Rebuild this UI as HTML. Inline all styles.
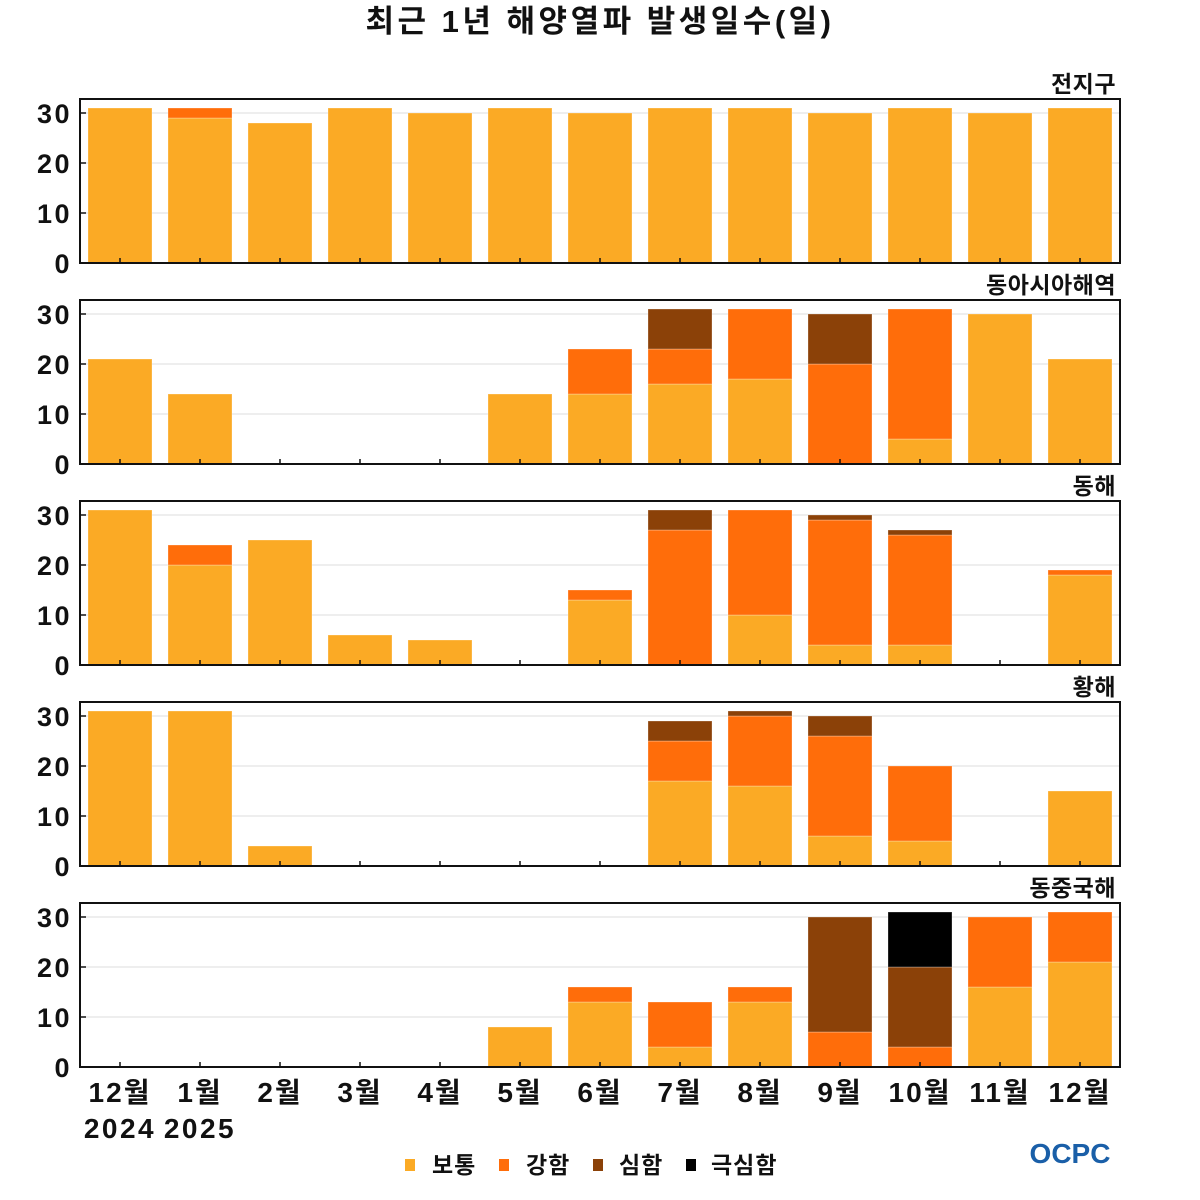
<!DOCTYPE html>
<html><head><meta charset="utf-8"><style>
html,body{margin:0;padding:0;background:#fff;}
svg{display:block;font-family:"Liberation Sans","Noto Sans CJK KR",sans-serif;}
</style></head><body>
<svg id="chart" width="1200" height="1200" viewBox="0 0 1200 1200" xmlns="http://www.w3.org/2000/svg">
<text x="600" y="32" text-anchor="middle" font-size="31" font-weight="bold" fill="#111" letter-spacing="3.5">최근 1년 해양열파 발생일수(일)</text>
<g id="panels"></g>
<g font-size="23" font-weight="bold" fill="#111">
<rect x="405" y="1159" width="10" height="12" fill="#FBAA25"/>
<text x="432" y="1173" letter-spacing="1">보통</text>
<rect x="499" y="1159" width="10" height="12" fill="#FF6D0A"/>
<text x="526" y="1173" letter-spacing="1">강함</text>
<rect x="593" y="1159" width="10" height="12" fill="#8B4108"/>
<text x="619" y="1173" letter-spacing="1">심함</text>
<rect x="686" y="1159" width="10" height="12" fill="#000"/>
<text x="711" y="1173" letter-spacing="1">극심함</text>
</g>
<text x="1070" y="1163" text-anchor="middle" font-size="28" font-weight="bold" fill="#1a5fa8">OCPC</text>
</svg>
<script>
const months = ["12월","1월","2월","3월","4월","5월","6월","7월","8월","9월","10월","11월","12월"];
const panelTitles = ["전지구","동아시아해역","동해","황해","동중국해"];
const yTicks = [0,10,20,30];
// per panel: [보통, 강함, 심함, 극심함]
const globalModerate = [31,29,28,31,30,31,30,31,31,30,31,30,31];
const globalStrong   = [0,2,0,0,0,0,0,0,0,0,0,0,0];
const globalSevere   = [0,0,0,0,0,0,0,0,0,0,0,0,0];
const globalExtreme  = [0,0,0,0,0,0,0,0,0,0,0,0,0];
const eastAsiaModerate = [21,14,0,0,0,14,14,16,17,0,5,30,21];
const eastAsiaStrong   = [0,0,0,0,0,0,9,7,14,20,26,0,0];
const eastAsiaSevere   = [0,0,0,0,0,0,0,8,0,10,0,0,0];
const eastAsiaExtreme  = [0,0,0,0,0,0,0,0,0,0,0,0,0];
const eastSeaModerate = [31,20,25,6,5,0,13,0,10,4,4,0,18];
const eastSeaStrong   = [0,4,0,0,0,0,2,27,21,25,22,0,1];
const eastSeaSevere   = [0,0,0,0,0,0,0,4,0,1,1,0,0];
const eastSeaExtreme  = [0,0,0,0,0,0,0,0,0,0,0,0,0];
const yellowModerate = [31,31,4,0,0,0,0,17,16,6,5,0,15];
const yellowStrong   = [0,0,0,0,0,0,0,8,14,20,15,0,0];
const yellowSevere   = [0,0,0,0,0,0,0,4,1,4,0,0,0];
const yellowExtreme  = [0,0,0,0,0,0,0,0,0,0,0,0,0];
const ecsModerate = [0,0,0,0,0,8,13,4,13,0,0,16,21];
const ecsStrong   = [0,0,0,0,0,0,3,9,3,7,4,14,10];
const ecsSevere   = [0,0,0,0,0,0,0,0,0,23,16,0,0];
const ecsExtreme  = [0,0,0,0,0,0,0,0,0,0,11,0,0];

const series = [
 [globalModerate,globalStrong,globalSevere,globalExtreme],
 [eastAsiaModerate,eastAsiaStrong,eastAsiaSevere,eastAsiaExtreme],
 [eastSeaModerate,eastSeaStrong,eastSeaSevere,eastSeaExtreme],
 [yellowModerate,yellowStrong,yellowSevere,yellowExtreme],
 [ecsModerate,ecsStrong,ecsSevere,ecsExtreme]
];
const colors = ["#FBAA25","#FF6D0A","#8B4108","#000000"];
const levelNames = ["moderate","strong","severe","extreme"];
const NS = "http://www.w3.org/2000/svg";
const root = document.getElementById("panels");
const X0 = 80, X1 = 1120, PH = 164, YMAX = 32.8;
function mk(tag, attrs, parent){const e=document.createElementNS(NS,tag);for(const k in attrs)e.setAttribute(k,attrs[k]);parent.appendChild(e);return e;}
function xC(i){return X0 + (X1-X0)/months.length*(i+0.5);}
const bw = (X1-X0)/months.length*0.8;

series.forEach((s,p)=>{
  const top = 99 + p*201, bottom = top + PH;
  const y = v => bottom - v/YMAX*PH;
  const g = mk("g",{},root);
  
  
  const t = mk("text",{x:1116,y:top-7,"text-anchor":"end","font-size":"23","font-weight":"bold",fill:"#111","letter-spacing":"0.5"},g);
  t.textContent = panelTitles[p];
  
  
  yTicks.forEach(v=>{
    if(v>0){const gl=mk("line",{x1:X0,x2:X1,y1:y(v),y2:y(v),stroke:"#ddd","stroke-width":1},g);
      
      }
    const tk=mk("line",{x1:X0,x2:X0+6,y1:y(v),y2:y(v),stroke:"#111","stroke-width":1.5},g);
    
    
    const tl=mk("text",{x:72,y:y(v)+10,"text-anchor":"end","font-size":"27","font-weight":"bold",fill:"#111","letter-spacing":"2.5"},g);
    tl.textContent=v;
    
    
  });
  months.forEach((m,i)=>{
    let acc=0;
    s.forEach((arr,l)=>{
      const v=arr[i]; if(!v) return;
      const r=mk("rect",{x:xC(i)-bw/2,y:y(acc+v),width:bw,height:y(acc)-y(acc+v),fill:colors[l],stroke:"rgba(255,255,255,0.35)","stroke-width":0.8},g);
      
      
      acc+=v;
    });
    const tk=mk("line",{x1:xC(i),x2:xC(i),y1:bottom,y2:bottom-5,stroke:"#111","stroke-width":1.5},g);
    
    
  });
  const fr=mk("rect",{x:X0,y:top,width:X1-X0,height:PH,fill:"none",stroke:"#111","stroke-width":2},g);
  
  
});
months.forEach((m,i)=>{
  const t=mk("text",{x:xC(i),y:1102,"text-anchor":"middle","font-size":"28","font-weight":"bold",fill:"#111","letter-spacing":"2"},root);
  t.textContent=m;
  
  
});
[["2024",0],["2025",1]].forEach(([yr,i])=>{
  const t=mk("text",{x:xC(i),y:1138,"text-anchor":"middle","font-size":"28","font-weight":"bold",fill:"#111","letter-spacing":"2.5"},root);
  t.textContent=yr;
  
  
});
</script>
</body></html>
